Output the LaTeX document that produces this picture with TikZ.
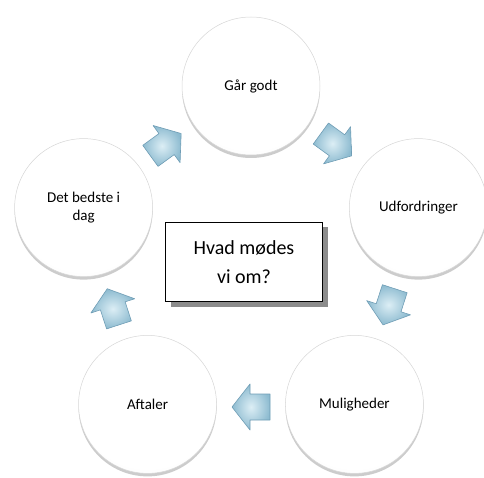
\documentclass[tikz,border=0pt]{standalone}
\usepackage{fontspec}
\setmainfont{Carlito}
\usetikzlibrary{shadows}
\definecolor{arrowfill}{HTML}{8DBBD0}
\definecolor{arrowdark}{HTML}{6F9DB5}
\definecolor{arrowlight}{HTML}{DCEEF5}
\pgfdeclareradialshading{discshade}{\pgfpoint{0bp}{6bp}}{color(0bp)=(white); color(26bp)=(white); color(38bp)=(black!6); color(45bp)=(black!16); color(50bp)=(black!38)}
\tikzset{
  stage/.style={circle, minimum size=138pt, inner sep=2pt, shading=discshade,
    draw=black!16, line width=.5pt, align=center, font=\fontsize{15}{18.5}\selectfont,
    drop shadow={shadow xshift=0pt, shadow yshift=-3pt, opacity=.2, fill=black}},
  turnarrow/.style={shade, inner color=arrowlight, outer color=arrowfill,
    draw=arrowdark, line width=.6pt, line join=round},
  topicbox/.style={draw, line width=1.6pt, fill=white, minimum width=157pt,
    minimum height=79pt, align=center, font=\fontsize{20}{29}\selectfont,
    drop shadow={shadow xshift=5pt, shadow yshift=-5pt, fill=black!45, opacity=1}}
}
\begin{document}
\begin{tikzpicture}[x=1pt, y=1pt]
  \useasboundingbox (0,0) rectangle (484,477);
  \begin{scope}[shift={(251,215)}]
    % the five stages of the cycle
    \node[stage] (godt) at (90:176) {Går godt};
    \node[stage] (udfordr) at (18:176) {Udfordringer};
    \node[stage] (mulig) at (-54:176) {Muligheder};
    \node[stage] (aftaler) at (-126:176) {Aftaler};
    \node[stage] (bedste) at (162:176) {Det bedste i\\dag};
    % arrows between them, clockwise
    \foreach \a in {54, -18, -90, -162, 126} {
        \draw[turnarrow, shift={(\a:145)}, rotate=\a-90]
          (19,0) -- (1,23) -- (1,13) -- (-19,13) -- (-19,-13) -- (1,-13) -- (1,-23) -- cycle;
      }
  \end{scope}
  \node[topicbox] (topic) at (244,215) {Hvad mødes\\vi om?};
\end{tikzpicture}
\end{document}
